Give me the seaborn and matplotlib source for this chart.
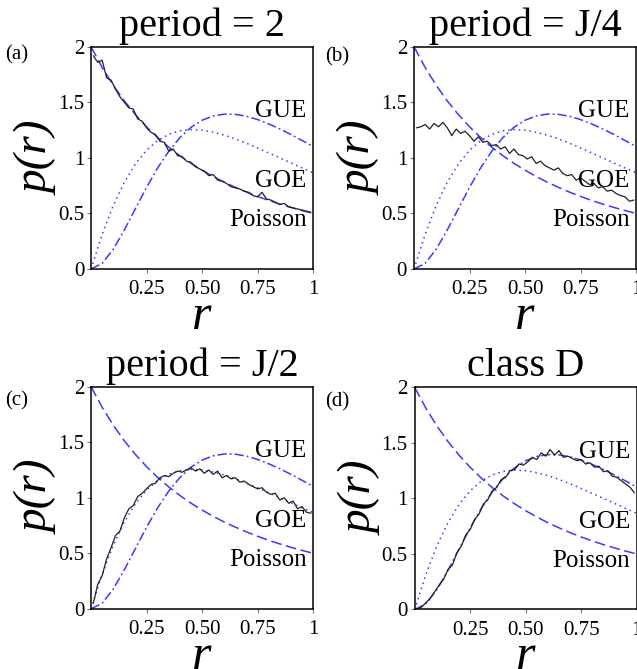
import numpy as np
import pandas as pd
import matplotlib
matplotlib.use("Agg")
import matplotlib.pyplot as plt
import seaborn as sns

#config

OUT_FILE = "out.png"
BLUE = "#3a3aff"
DATA_COLOR = "#222222"

# theory curves read at r = 0, 0.05, ..., 1
r_theory = np.linspace(0, 1, 21)
poisson = [2.00, 1.814, 1.653, 1.512, 1.389, 1.280, 1.183, 1.097, 1.020, 0.951,
           0.889, 0.833, 0.781, 0.735, 0.692, 0.653, 0.617, 0.584, 0.554, 0.526, 0.500]
goe = [0.00, 0.312, 0.572, 0.782, 0.946, 1.069, 1.156, 1.212, 1.244, 1.255,
       1.250, 1.232, 1.205, 1.171, 1.132, 1.089, 1.045, 1.000, 0.955, 0.910, 0.866]
gue = [0.00, 0.050, 0.178, 0.352, 0.544, 0.735, 0.910, 1.060, 1.182, 1.275,
       1.339, 1.378, 1.394, 1.392, 1.375, 1.345, 1.306, 1.261, 1.211, 1.157, 1.103]

# numerical histograms, bin centres r = 0.01, 0.03, ..., 0.99
r_bins = np.linspace(0.01, 0.99, 50)
p_period2 = [1.92, 1.86, 1.88, 1.72, 1.70, 1.62, 1.55, 1.50, 1.45, 1.44,
             1.35, 1.33, 1.27, 1.23, 1.21, 1.15, 1.14, 1.06, 1.08, 1.02,
             1.01, 0.97, 0.96, 0.92, 0.90, 0.88, 0.84, 0.85, 0.80, 0.79,
             0.77, 0.74, 0.73, 0.72, 0.70, 0.69, 0.66, 0.65, 0.69, 0.63,
             0.62, 0.60, 0.58, 0.59, 0.56, 0.55, 0.54, 0.53, 0.52, 0.51]
p_periodJ4 = [1.27, 1.28, 1.30, 1.26, 1.31, 1.28, 1.32, 1.27, 1.20, 1.26,
              1.22, 1.24, 1.20, 1.15, 1.19, 1.14, 1.15, 1.11, 1.12, 1.08,
              1.10, 1.04, 1.08, 1.03, 1.02, 0.99, 1.01, 0.95, 0.97, 0.93,
              0.91, 0.89, 0.91, 0.86, 0.84, 0.85, 0.80, 0.82, 0.79, 0.76,
              0.77, 0.73, 0.74, 0.70, 0.71, 0.68, 0.66, 0.65, 0.61, 0.62]
p_periodJ2 = [0.05, 0.22, 0.30, 0.45, 0.55, 0.66, 0.70, 0.82, 0.90, 0.93,
              1.01, 1.04, 1.08, 1.12, 1.13, 1.18, 1.20, 1.19, 1.22, 1.24,
              1.23, 1.25, 1.27, 1.24, 1.26, 1.22, 1.25, 1.21, 1.24, 1.18,
              1.20, 1.17, 1.18, 1.14, 1.15, 1.12, 1.10, 1.08, 1.09, 1.05,
              1.03, 1.04, 0.98, 1.00, 0.95, 0.97, 0.90, 0.92, 0.87, 0.86]
p_classD = [0.00, 0.02, 0.06, 0.10, 0.16, 0.22, 0.27, 0.36, 0.40, 0.51,
            0.57, 0.67, 0.72, 0.81, 0.86, 0.95, 0.99, 1.07, 1.10, 1.17,
            1.19, 1.25, 1.26, 1.31, 1.30, 1.33, 1.37, 1.35, 1.41, 1.38,
            1.44, 1.39, 1.43, 1.37, 1.38, 1.36, 1.34, 1.35, 1.31, 1.32,
            1.28, 1.29, 1.24, 1.25, 1.20, 1.19, 1.16, 1.13, 1.10, 1.05]

titles = ["period = 2", "period = J/4", "period = J/2", "class D"]
tags = ["(a)", "(b)", "(c)", "(d)"]
panel_data = [p_period2, p_periodJ4, p_periodJ2, p_classD]

x_ticks = [0.25, 0.5, 0.75, 1.0]
x_ticklabels = ["0.25", "0.50", "0.75", "1"]
y_ticks = [0, 0.5, 1, 1.5, 2]
y_ticklabels = ["0", "0.5", "1", "1.5", "2"]

curve_labels = ["GUE", "GOE", "Poisson"]
curve_label_y = [1.42, 0.79, 0.44]

# axes boxes in figure fractions [left, bottom, width, height]
boxes = [
    [0.143, 0.598, 0.3485, 0.332],
    [0.650, 0.598, 0.3485, 0.332],
    [0.143, 0.090, 0.3485, 0.332],
    [0.651, 0.089, 0.3485, 0.332],
]
tag_pos = [(0.008, 0.918), (0.511, 0.915), (0.008, 0.401), (0.511, 0.399)]


def draw_panel(ax, y_data, title):
    theory = pd.DataFrame({"r": r_theory, "poisson": poisson, "goe": goe, "gue": gue})

    sns.lineplot(data=theory, x="r", y="poisson", ax=ax, color=BLUE,
                 linestyle=(0, (7, 3)), linewidth=1.1)
    sns.lineplot(data=theory, x="r", y="goe", ax=ax, color=BLUE,
                 linestyle=(0, (1, 2.5)), linewidth=1.1)
    sns.lineplot(data=theory, x="r", y="gue", ax=ax, color=BLUE,
                 linestyle=(0, (6, 2, 1.2, 2)), linewidth=1.1)
    sns.lineplot(x=r_bins, y=y_data, ax=ax, color=DATA_COLOR, linewidth=0.9)

    for lab, yy in zip(curve_labels, curve_label_y):
        ax.text(0.97, yy, lab, ha="right", va="center", fontsize=18, color="black")

    ax.set_xlim(0, 1)
    ax.set_ylim(0, 2)
    ax.set_xticks(x_ticks)
    ax.set_xticklabels(x_ticklabels)
    ax.set_yticks(y_ticks)
    ax.set_yticklabels(y_ticklabels)
    ax.tick_params(axis="both", direction="out", length=3, width=0.8,
                   color="#777777", labelcolor="black", labelsize=15, pad=2)
    ax.tick_params(axis="x", pad=5)

    for sp in ax.spines.values():
        sp.set_visible(True)
        sp.set_color("black")
        sp.set_linewidth(1.1)

    ax.set_xlabel("r", fontsize=36, fontstyle="italic", color="black")
    ax.xaxis.set_label_coords(0.5, -0.11)
    ax.set_ylabel("p(r)", fontsize=34, fontstyle="italic", color="black")
    ax.yaxis.set_label_coords(-0.145, 0.5)
    ax.set_title(title, fontsize=29, pad=8, color="black")


def main():
    sns.set_theme(style="ticks")
    plt.rcParams["font.family"] = ["Liberation Serif", "DejaVu Serif"]
    plt.rcParams["text.color"] = "black"

    fig = plt.figure(figsize=(6.37, 6.69), dpi=100)
    fig.patch.set_facecolor("white")

    for box, y_data, title, tag, tp in zip(boxes, panel_data, titles, tags, tag_pos):
        ax = fig.add_axes(box)
        draw_panel(ax, y_data, title)
        fig.text(tp[0], tp[1], tag, fontsize=15, ha="left", va="center", color="black")

    fig.savefig(OUT_FILE, dpi=100)


if __name__ == "__main__":
    main()
